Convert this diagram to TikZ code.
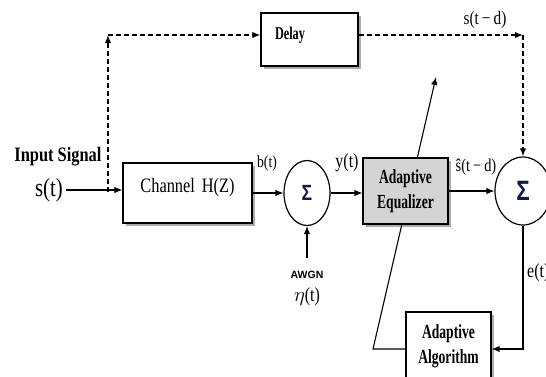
\documentclass[tikz,border=0pt]{standalone}
\usepackage{fontspec}
\setmainfont{Liberation Serif}
\newfontfamily\narrowserif[FakeStretch=0.8]{Liberation Serif}
\newfontfamily\boxserif[FakeStretch=0.68]{Liberation Serif}
\newfontfamily\narrowsans[FakeStretch=0.8]{Liberation Sans}
\newfontfamily\plainsans{Liberation Sans}
\usepackage{tikz}
\usetikzlibrary{arrows.meta,shapes.geometric,shadows}

\definecolor{sigmablue}{rgb}{0.08,0.1,0.3}
\definecolor{eqgray}{gray}{0.83}

\tikzset{
	blockbox/.style={rectangle, draw=black, line width=1.2pt, fill=white, inner sep=0pt, drop shadow={shadow xshift=2.5pt, shadow yshift=-2.5pt, fill=black!65}},
	sumnode/.style={ellipse, draw=black, line width=1.2pt, fill=white, inner sep=0pt, text=sigmablue},
	sigline/.style={line width=1.1pt, ->},
	delayline/.style={line width=1.4pt, dash pattern=on 5pt off 3pt, ->},
	lbl/.style={inner sep=0pt, font=\narrowserif\fontsize{17}{17}\selectfont},
}

\begin{document}
\begin{tikzpicture}[x=1pt, y=-1pt, >={Latex[length=8pt,width=6.5pt]}]
	\useasboundingbox (0,0) rectangle (546,376);

		\node[lbl, font=\narrowserif\bfseries\fontsize{20.5}{20.5}\selectfont] (insig) at (58,157) {Input Signal};
		
		\node[lbl, inner xsep=3pt, font=\narrowserif\fontsize{26}{26}\selectfont] (st) at (49,190) {s(t)};
		
		\node[blockbox, minimum width=129pt, text width=129pt, align=center, text height=29pt, text depth=31pt, font=\narrowserif\fontsize{20.5}{20.5}\selectfont] (chan) at (187.5,193) {Channel H(Z)};
		
		\node[sumnode, minimum width=46pt, minimum height=65pt, font=\narrowsans\bfseries\fontsize{22}{22}\selectfont] (sum1) at (307,193) {Σ};
		
		\node[inner sep=0pt, font=\plainsans\bfseries\fontsize{10.5}{10.5}\selectfont] (awgn) at (307,275) {AWGN};
		
		\node[lbl, font=\narrowserif\fontsize{20}{20}\selectfont] (noise) at (307,297) {$\eta$(t)};
		
		\node[blockbox, inner xsep=14pt, text width=69pt, align=left, text height=26pt, text depth=27pt, font=\boxserif\bfseries\fontsize{18}{18}\selectfont] (delay) at (309.5,39.5) {Delay};
		
		\node[blockbox, minimum width=85pt, minimum height=68pt, align=center, font=\boxserif\bfseries\fontsize{20}{25}\selectfont] (alg) at (448.5,346) {Adaptive\\Algorithm};
		
		\node[sumnode, minimum width=56pt, minimum height=68pt, font=\narrowsans\bfseries\fontsize{28}{28}\selectfont] (sum2) at (523,191) {Σ};
		
		\coordinate (tap) at (108,192);
		\coordinate (lefttop) at (108,35);
		\coordinate (righttop) at (523,35);
		\coordinate (adjfoot) at (373,349);
		\coordinate (adjtip) at (436,77);
		\coordinate (errcorner) at (523,349);
		\coordinate (noisein) at (307,258);
		
		% adaptation line goes behind the equalizer
		\draw[line width=1.1pt, ->] (alg.west |- adjfoot) -- (adjfoot) -- (adjtip);
		
		\node[blockbox, fill=eqgray, minimum width=85pt, minimum height=66pt, align=center, font=\boxserif\bfseries\fontsize{20}{25}\selectfont] (eq) at (405.5,191) {Adaptive\\Equalizer};
		
		\node[lbl] (bt) at (267,163) {b(t)};
		\node[lbl, font=\narrowserif\fontsize{20}{20}\selectfont] (yt) at (347,163) {y(t)};
		\node[lbl, font=\narrowserif\fontsize{18}{18}\selectfont] (sest) at (476,167) {\^{s}(t\,−\,d)};
		\node[lbl, font=\narrowserif\fontsize{19}{19}\selectfont] (sdel) at (485,20) {s(t\,−\,d)};
		\node[lbl, anchor=west, font=\narrowserif\fontsize{20}{20}\selectfont] (err) at (527,273) {e(t)};
		
		\draw[sigline] (st) -- (st -| chan.west);
		\draw[sigline] (chan) -- (sum1);
		\draw[sigline] (noisein) -- (sum1);
		\draw[sigline] (sum1.east) -- (sum1.east -| eq.west);
		\draw[sigline] (eq) -- (sum2);
		\draw[line width=1.6pt, ->] (sum2) -- (errcorner) -- (alg.east |- errcorner);
		
		\draw[delayline] (tap) -- (lefttop);
		\draw[delayline] (lefttop) -- (lefttop -| delay.west);
		\draw[delayline] (lefttop -| delay.east) -- (righttop);
		\draw[delayline] (righttop) -- (sum2);
\end{tikzpicture}
\end{document}
